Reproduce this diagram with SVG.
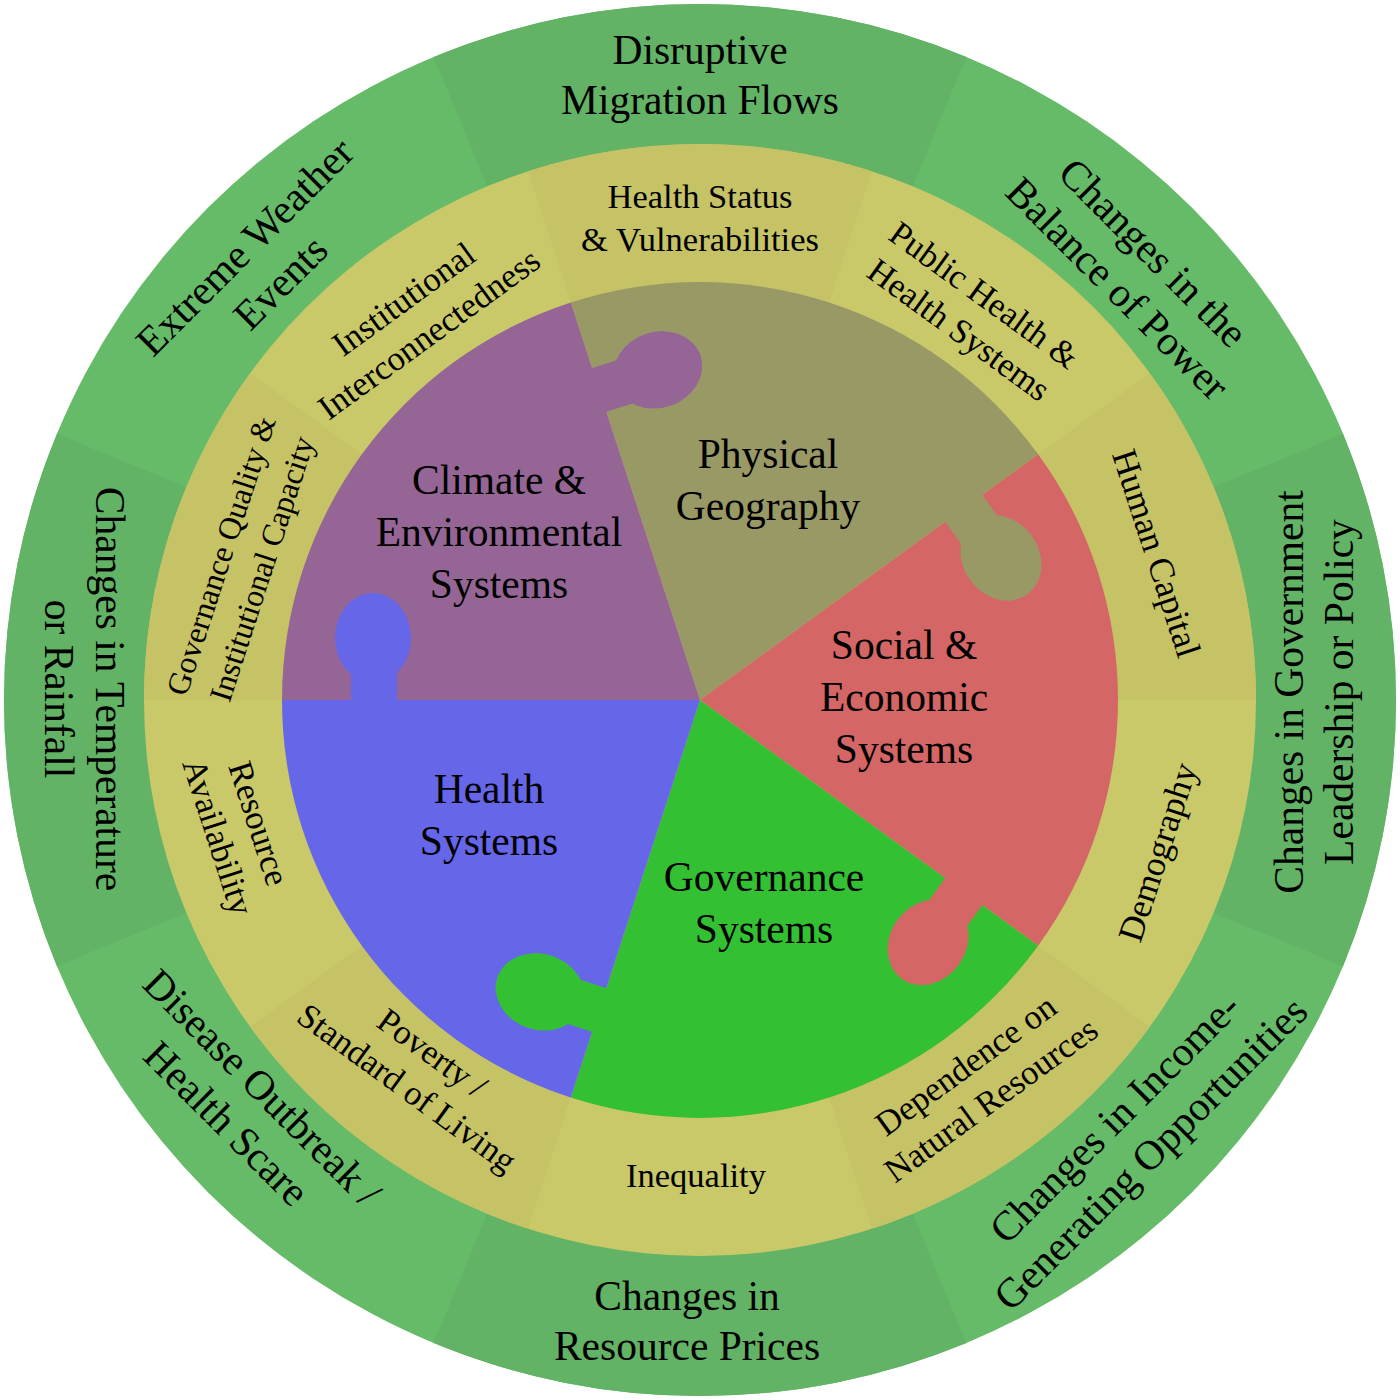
<svg xmlns="http://www.w3.org/2000/svg" xmlns:xlink="http://www.w3.org/1999/xlink" width="1400" height="1400" viewBox="0 0 1400 1400">
<style>
  text { font-family: "Liberation Serif", "Times New Roman", serif; fill: #000; text-anchor: middle; }
  .outer { font-size: 41.5px; }
  .mid { font-size: 34.5px; }
  .mid-s { font-size: 32px; }
  .mid1 { font-size: 35.5px; }
  .inner { font-size: 41.5px; }
  .g-light { fill: #66BB69; }
  .g-dark { fill: #63B366; }
  .y-light { fill: #C9C96A; }
  .y-dark { fill: #C6C266; }
</style>
<defs>
  <path id="outerWedge" d="M700,700 L433.65,56.98 A696,696 0 0 1 966.35,56.98 Z"/>
  <path id="midWedge" d="M700,700 L528.19,171.21 A556,556 0 0 1 871.81,171.21 Z"/>
  <path id="pieWedge" d="M700,700 L570.83,302.46 A418,418 0 0 1 1038.17,454.31 Z"/>
  <g id="knob">
    <rect x="303" y="-3" width="46" height="36"/>
    <ellipse cx="327" cy="62" rx="38" ry="45"/>
  </g>
</defs>
<rect width="1400" height="1400" fill="#ffffff"/>

<g id="outer-ring">
  <circle cx="700" cy="700" r="696" class="g-light"/>
  <use xlink:href="#outerWedge" class="g-dark"/>
  <use xlink:href="#outerWedge" class="g-dark" transform="rotate(90 700 700)"/>
  <use xlink:href="#outerWedge" class="g-dark" transform="rotate(180 700 700)"/>
  <use xlink:href="#outerWedge" class="g-dark" transform="rotate(270 700 700)"/>
</g>
<g id="middle-ring">
  <circle cx="700" cy="700" r="556" class="y-light"/>
  <use xlink:href="#midWedge" class="y-dark"/>
  <use xlink:href="#midWedge" class="y-dark" transform="rotate(72 700 700)"/>
  <use xlink:href="#midWedge" class="y-dark" transform="rotate(144 700 700)"/>
  <use xlink:href="#midWedge" class="y-dark" transform="rotate(216 700 700)"/>
  <use xlink:href="#midWedge" class="y-dark" transform="rotate(288 700 700)"/>
</g>

<g id="node-physical-geography">
  <use xlink:href="#pieWedge" fill="#999966"/>
</g>
<g id="node-social-economic">
  <use xlink:href="#pieWedge" fill="#D46666" transform="rotate(72 700 700)"/>
</g>
<g id="node-governance">
  <use xlink:href="#pieWedge" fill="#33C133" transform="rotate(144 700 700)"/>
</g>
<g id="node-health-systems">
  <use xlink:href="#pieWedge" fill="#6666E8" transform="rotate(216 700 700)"/>
</g>
<g id="node-climate">
  <use xlink:href="#pieWedge" fill="#956695" transform="rotate(288 700 700)"/>
</g>

<g id="knobs">
  <use xlink:href="#knob" fill="#6666E8" transform="translate(700 700) rotate(-180)"/>
  <use xlink:href="#knob" fill="#956695" transform="translate(700 700) rotate(-108)"/>
  <use xlink:href="#knob" fill="#999966" transform="translate(700 700) rotate(-36)"/>
  <use xlink:href="#knob" fill="#D46666" transform="translate(700 700) rotate(36)"/>
  <use xlink:href="#knob" fill="#33C133" transform="translate(700 700) rotate(108)"/>
</g>

<g id="inner-labels">
  <text class="inner" x="768" y="468">Physical</text>
  <text class="inner" x="768" y="520">Geography</text>
  <text class="inner" x="499" y="494">Climate &amp;</text>
  <text class="inner" x="499" y="546">Environmental</text>
  <text class="inner" x="499" y="598">Systems</text>
  <text class="inner" x="904" y="659">Social &amp;</text>
  <text class="inner" x="904" y="711">Economic</text>
  <text class="inner" x="904" y="763">Systems</text>
  <text class="inner" x="489" y="803">Health</text>
  <text class="inner" x="489" y="855">Systems</text>
  <text class="inner" x="764" y="891">Governance</text>
  <text class="inner" x="764" y="943">Systems</text>
</g>

<g id="middle-labels">
  <g transform="translate(700 217.5)"><text class="mid" y="-9.4">Health Status</text><text class="mid" y="33.6">&amp; Vulnerabilities</text></g>
  <g transform="translate(972 312) rotate(36)"><text class="mid" y="-9.4">Public Health &amp;</text><text class="mid" y="33.6">Health Systems</text></g>
  <g transform="translate(1157 553) rotate(72)"><text class="mid1" y="12.4">Human Capital</text></g>
  <g transform="translate(1157 852) rotate(-72)"><text class="mid1" y="12.4">Demography</text></g>
  <g transform="translate(978 1082) rotate(-36)"><text class="mid" y="-9.4">Dependence on</text><text class="mid" y="33.6">Natural Resources</text></g>
  <g transform="translate(696 1175)"><text class="mid" y="12.1">Inequality</text></g>
  <g transform="translate(420 1070) rotate(36)"><text class="mid" y="-9.4">Poverty /</text><text class="mid" y="33.6">Standard of Living</text></g>
  <g transform="translate(239 830) rotate(72)"><text class="mid" y="-9.4">Resource</text><text class="mid" y="33.6">Availability</text></g>
  <g transform="translate(241 562) rotate(-72)"><text class="mid-s" y="-10.3">Governance Quality &amp;</text><text class="mid-s" y="32.7">Institutional Capacity</text></g>
  <g transform="translate(416 316) rotate(-36)"><text class="mid" y="-9.4">Institutional</text><text class="mid" y="33.6">Interconnectedness</text></g>
</g>

<g id="outer-labels">
  <g transform="translate(700 74)"><text class="outer" y="-10.5">Disruptive</text><text class="outer" y="40">Migration Flows</text></g>
  <g transform="translate(1136 270) rotate(45)"><text class="outer" y="-10.5">Changes in the</text><text class="outer" y="40">Balance of Power</text></g>
  <g transform="translate(1313 692) rotate(-90)"><text class="outer" y="-10.5">Changes in Government</text><text class="outer" y="40">Leadership or Policy</text></g>
  <g transform="translate(1132 1135) rotate(-45)"><text class="outer" y="-10.5">Changes in Income-</text><text class="outer" y="40">Generating Opportunities</text></g>
  <g transform="translate(687 1320)"><text class="outer" y="-10.5">Changes in</text><text class="outer" y="40">Resource Prices</text></g>
  <g transform="translate(245 1105) rotate(45)"><text class="outer" y="-10.5">Disease Outbreak /</text><text class="outer" y="40">Health Scare</text></g>
  <g transform="translate(85 689) rotate(90)"><text class="outer" y="-10.5">Changes in Temperature</text><text class="outer" y="40">or Rainfall</text></g>
  <g transform="translate(262 264) rotate(-45)"><text class="outer" y="-10.5">Extreme Weather</text><text class="outer" y="40">Events</text></g>
</g>
</svg>
